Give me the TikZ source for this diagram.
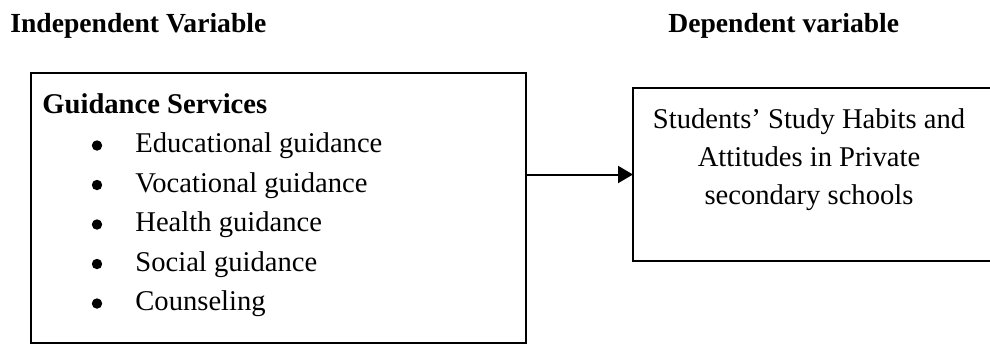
\documentclass[tikz,border=0pt]{standalone}
\usepackage{fontspec}
\setmainfont{Liberation Serif}
\usetikzlibrary{arrows.meta}

\tikzset{
  varbox/.style={draw,line width=1pt,inner sep=0pt,outer sep=0pt,anchor=north west},
  heading/.style={font=\fontsize{13.8pt}{16pt}\selectfont\bfseries,inner sep=0pt,anchor=base west},
  boxtitle/.style={font=\fontsize{14.3pt}{17pt}\selectfont\bfseries,inner sep=0pt,anchor=base west},
  itemtext/.style={font=\fontsize{14.3pt}{17pt}\selectfont,inner sep=0pt,anchor=base west},
  dvtext/.style={font=\fontsize{14.3pt}{17pt}\selectfont,inner sep=0pt,anchor=base}
}

\begin{document}
\begin{tikzpicture}[line cap=butt,line join=miter,>={Triangle[length=7.5pt,width=8.5pt]},x=0.5pt,y=-0.5pt]
    \useasboundingbox (0,0) rectangle (990,344);
    % headings
    \node[heading] (ivhead) at (10,32) {Independent Variable};
    \node[heading] (dvhead) at (668,32) {Dependent variable};
    % boxes
    \node[varbox,minimum width=247.5pt,minimum height=135pt] (ivbox) at (31,73) {};
    \node[varbox,minimum width=183.5pt,minimum height=86.5pt] (dvbox) at (633,88) {};
    % independent variable
    \node[boxtitle] (gstitle) at (42,113) {Guidance Services};
    \foreach \name [count=\i] in {Educational guidance, Vocational guidance, Health guidance, Social guidance, Counseling} {
        \pgfmathsetmacro\yy{113+39.5*\i}
        \fill (97,\yy-7) circle (2.6pt);
        \node[itemtext] (gs\i) at (135,\yy) {\name};
    }
    % dependent variable
    \node[dvtext] (dv1) at (809,128) {Students’ Study Habits and};
    \node[dvtext] (dv2) at (809,166) {Attitudes in Private};
    \node[dvtext] (dv3) at (809,204) {secondary schools};
    % connector
    \draw[->,line width=1pt] (ivbox.east |- dvbox.west) -- (dvbox.west);
\end{tikzpicture}
\end{document}
